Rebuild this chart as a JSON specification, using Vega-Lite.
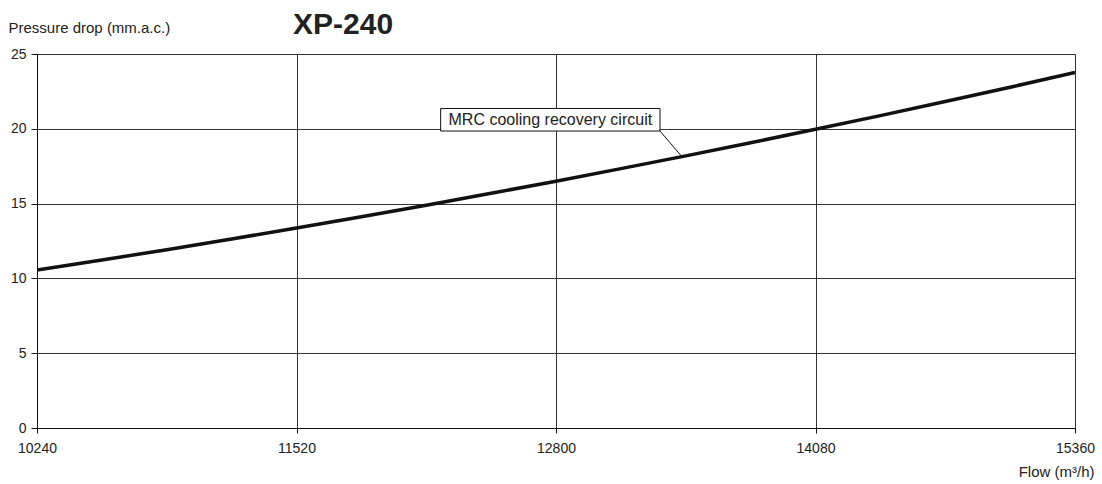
{
  "$schema": "https://vega.github.io/schema/vega-lite/v6.json",
  "width": 1038,
  "height": 374,
  "autosize": {"type": "none"},
  "padding": {"left": 37, "top": 54, "right": 27, "bottom": 56},
  "background": "white",
  "config": {
    "font": "Liberation Sans",
    "view": {"stroke": "#555", "strokeWidth": 1}
  },
  "title": {
    "text": "XP-240",
    "font": "Liberation Sans",
    "fontSize": 30,
    "fontWeight": "bold",
    "color": "#222",
    "anchor": "start",
    "dx": 285,
    "offset": 0,
    "dy": 20
  },
  "layer": [
    {
      "data": {"values": [
        {"flow": 10240, "dp": 10.56},
        {"flow": 10560, "dp": 11.23},
        {"flow": 10880, "dp": 11.92},
        {"flow": 11200, "dp": 12.63},
        {"flow": 11520, "dp": 13.37},
        {"flow": 11840, "dp": 14.12},
        {"flow": 12160, "dp": 14.89},
        {"flow": 12480, "dp": 15.69},
        {"flow": 12800, "dp": 16.50},
        {"flow": 13120, "dp": 17.34},
        {"flow": 13440, "dp": 18.19},
        {"flow": 13760, "dp": 19.07},
        {"flow": 14080, "dp": 19.97},
        {"flow": 14400, "dp": 20.88},
        {"flow": 14720, "dp": 21.82},
        {"flow": 15040, "dp": 22.78},
        {"flow": 15360, "dp": 23.76}
      ]},
      "mark": {"type": "line", "color": "#111", "strokeWidth": 3.5, "clip": true},
      "encoding": {
        "x": {
          "field": "flow", "type": "quantitative",
          "scale": {"domain": [10240, 15360], "nice": false, "zero": false},
          "axis": {
            "values": [10240, 11520, 12800, 14080, 15360], "format": "d",
            "grid": true, "gridColor": "#333", "gridWidth": 1,
            "domainColor": "#111", "tickColor": "#111", "tickSize": 5,
            "labelFontSize": 14, "labelColor": "#222", "labelPadding": 8,
            "labelFlush": false, "labelOverlap": false,
            "title": "Flow (m³/h)", "titleFontSize": 15, "titleFontWeight": "normal",
            "titleColor": "#222", "titleAnchor": "end", "titleAlign": "right",
            "titleX": 1057, "titleY": 48, "titleBaseline": "alphabetic"
          }
        },
        "y": {
          "field": "dp", "type": "quantitative",
          "scale": {"domain": [0, 25], "nice": false},
          "axis": {
            "values": [0, 5, 10, 15, 20, 25],
            "grid": true, "gridColor": "#333", "gridWidth": 1,
            "domainColor": "#111", "tickColor": "#111", "tickSize": 6,
            "labelFontSize": 14, "labelColor": "#222", "labelPadding": 5,
            "labelFlush": false, "labelOverlap": false,
            "title": "Pressure drop (mm.a.c.)", "titleFontSize": 15, "titleFontWeight": "normal",
            "titleColor": "#222", "titleAngle": 0, "titleAlign": "left",
            "titleX": -29, "titleY": -22, "titleBaseline": "alphabetic"
          }
        }
      }
    },
    {
      "data": {"values": [{"x1": 13313, "y1": 19.85, "x2": 13421, "y2": 18.14}]},
      "mark": {"type": "rule", "color": "#111", "strokeWidth": 1},
      "encoding": {
        "x": {"field": "x1", "type": "quantitative"},
        "y": {"field": "y1", "type": "quantitative"},
        "x2": {"field": "x2"},
        "y2": {"field": "y2"}
      }
    },
    {
      "data": {"values": [{"x1": 12231, "x2": 13313, "y1": 21.36, "y2": 19.85}]},
      "mark": {"type": "rect", "fill": "white", "stroke": "#111", "strokeWidth": 1},
      "encoding": {
        "x": {"field": "x1", "type": "quantitative"},
        "x2": {"field": "x2"},
        "y": {"field": "y1", "type": "quantitative"},
        "y2": {"field": "y2"}
      }
    },
    {
      "data": {"values": [{"x": 12772, "y": 20.61, "label": "MRC cooling recovery circuit"}]},
      "mark": {"type": "text", "fontSize": 16, "color": "#222", "align": "center", "baseline": "middle"},
      "encoding": {
        "x": {"field": "x", "type": "quantitative"},
        "y": {"field": "y", "type": "quantitative"},
        "text": {"field": "label"}
      }
    }
  ]
}
